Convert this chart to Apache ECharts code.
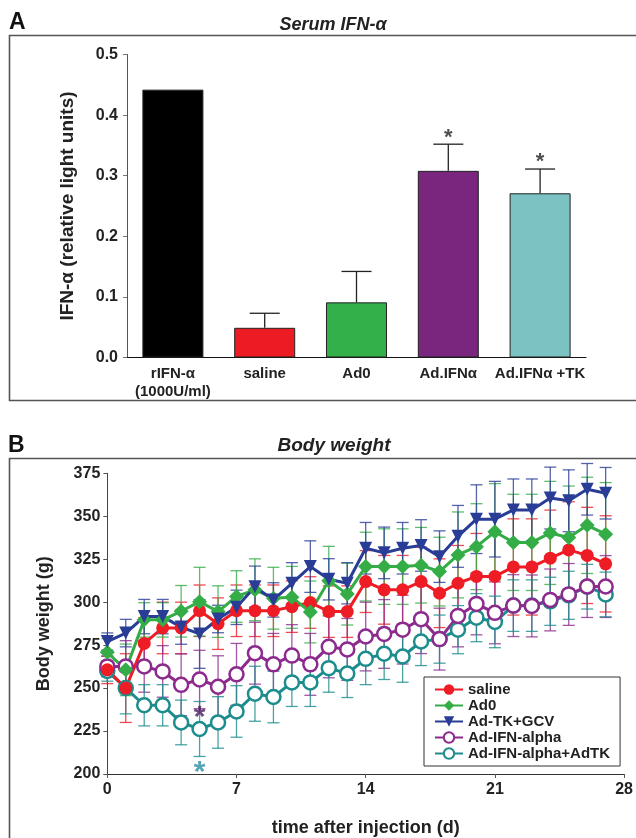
<!DOCTYPE html>
<html>
<head>
<meta charset="utf-8">
<script src="https://cdn.jsdelivr.net/npm/echarts@6/dist/echarts.min.js"></script>
<style>
  html, body { margin: 0; padding: 0; background: #fff; }
  #main { width: 636px; height: 838px; }
</style>
</head>
<body>
<div id="main"></div>
<script>
// panel A - serum IFN-alpha
var groupsA = ['rIFN-α\n(1000U/ml)', 'saline', 'Ad0', 'Ad.IFNα', 'Ad.IFNα +TK'];
var valuesA = [0.442, 0.049, 0.091, 0.308, 0.271];
var errorsA = [0, 0.024, 0.051, 0.044, 0.040];
var colorsA = ['#000000', '#ec1c24', '#33b04a', '#7b267e', '#7cc2c2'];
var starsA = [[3, 0.369], [4, 0.330]];
var ticksA = [0.0, 0.1, 0.2, 0.3, 0.4, 0.5];

// panel B - body weight
var days = [0, 1, 2, 3, 4, 5, 6, 7, 8, 9, 10, 11, 12, 13, 14, 15, 16, 17, 18, 19, 20, 21, 22, 23, 24, 25, 26, 27];
var seriesNames = ['saline', 'Ad0', 'Ad-TK+GCV', 'Ad-IFN-alpha', 'Ad-IFN-alpha+AdTK'];
var saline = [260.6, 250, 276, 285, 285, 295, 287.5, 295, 295, 295, 297.4, 299.8, 294.5, 294.5, 312, 307.2, 307.2, 312, 305.2, 311, 315, 315, 320.5, 320.5, 325.6, 330.4, 327.2, 322.3];
var ad0 = [270.8, 260.6, 289.7, 289.7, 294.7, 300.3, 294.5, 303.3, 307.2, 302.3, 302.8, 294.3, 312.5, 304.7, 320.7, 320.7, 320.7, 321.5, 317.8, 327.5, 332.3, 341, 334.8, 334.8, 340.3, 337.6, 344.7, 339.6];
var adTk = [277.1, 282, 291.6, 291.6, 285.5, 281.5, 290.2, 297, 309, 301.3, 311, 320.7, 313.3, 311, 331.4, 328.7, 331.4, 333, 326.5, 338.3, 348.3, 348.3, 353.7, 353.7, 360.6, 359, 365.7, 363.4];
var adIfn = [262.6, 262.6, 262.6, 259.7, 251.9, 255, 250.8, 258, 270.3, 263.8, 268.9, 263.8, 274, 272.5, 280, 281.5, 284, 290.1, 278.5, 292, 299, 293.8, 298, 297.8, 301.3, 304.5, 309.1, 309.1];
var adIfnTk = [260, 250, 240, 240, 230, 226.2, 230, 236.4, 246.7, 244.8, 253.3, 253.3, 261.6, 258.5, 267, 270, 268.4, 277.1, 278.5, 284, 291, 288.5, 298, 298, 300.5, 304, 309, 304.5];
var salineErr = [8, 20, 15, 15, 15, 15, 15, 15, 15, 15, 15, 15, 15, 15, 18, 20, 20, 20, 20, 22, 25, 25, 28, 28, 28, 28, 28, 28];
var ad0Err = [8, 15, 10, 10, 15, 20, 15, 15, 18, 18, 18, 18, 20, 18, 20, 22, 22, 22, 20, 25, 25, 28, 28, 28, 30, 30, 28, 30];
var adTkErr = [5, 8, 10, 10, 10, 20, 8, 10, 12, 10, 12, 15, 12, 12, 15, 15, 15, 15, 15, 18, 20, 22, 18, 18, 18, 18, 15, 15];
var adIfnErr = [6, 15, 15, 15, 18, 17, 18, 18, 18, 18, 18, 18, 18, 18, 20, 20, 20, 20, 18, 18, 18, 18, 18, 18, 18, 18, 18, 18];
var adIfnTkErr = [6, 15, 12, 12, 13, 16, 15, 15, 16, 15, 14, 14, 14, 14, 15, 15, 15, 14, 14, 14, 14, 15, 15, 15, 14, 14, 13, 13];
var starsB = [[5, 236.5, '#4b1d5e'], [5, 204.5, '#2a8fa5']];
var ticksBx = [0, 7, 14, 21, 28];
var ticksBy = [200, 225, 250, 275, 300, 325, 350, 375];

var FONT = '"Liberation Sans", Arial, sans-serif';
var chart = echarts.init(document.getElementById('main'), null, { renderer: 'canvas' });

function errBarsB(name, vals, errs, color) {
    var data = days.map(function (d, i) { return [d, vals[i] - errs[i], vals[i] + errs[i]]; });
    return {
        type: 'custom', name: name, xAxisIndex: 1, yAxisIndex: 1, z: 2, silent: true,
        encode: { x: 0, y: [1, 2] },
        data: data,
        renderItem: function (params, api) {
            var x = api.value(0);
            var lo = api.coord([x, api.value(1)]);
            var hi = api.coord([x, api.value(2)]);
            var w = 6;
            var st = { stroke: color, lineWidth: 1.3, opacity: 0.8 };
            return {
                type: 'group', children: [
                    { type: 'line', shape: { x1: hi[0], y1: hi[1], x2: lo[0], y2: lo[1] }, style: st },
                    { type: 'line', shape: { x1: hi[0] - w, y1: hi[1], x2: hi[0] + w, y2: hi[1] }, style: st },
                    { type: 'line', shape: { x1: lo[0] - w, y1: lo[1], x2: lo[0] + w, y2: lo[1] }, style: st }
                ]
            };
        }
    };
}

function lineB(name, vals, color, symbol, size, open, rotate) {
    return {
        type: 'line', name: name, xAxisIndex: 1, yAxisIndex: 1, z: 3,
        data: days.map(function (d, i) { return [d, vals[i]]; }),
        symbol: symbol, symbolSize: size, symbolRotate: rotate || 0,
        showAllSymbol: true,
        lineStyle: { color: color, width: 3 },
        itemStyle: open ? { color: '#ffffff', borderColor: color, borderWidth: 2.5 } : { color: color, borderWidth: 0 },
        emphasis: { disabled: true }
    };
}

var errA = {
    type: 'custom', xAxisIndex: 0, yAxisIndex: 0, z: 1, silent: true,
    data: valuesA.map(function (v, i) { return [i, v, v + errorsA[i]]; }),
    renderItem: function (params, api) {
        if (api.value(2) <= api.value(1)) return;
        var lo = api.coord([api.value(0), api.value(1)]);
        var hi = api.coord([api.value(0), api.value(2)]);
        var w = 15;
        var st = { stroke: '#222', lineWidth: 1.3 };
        return {
            type: 'group', children: [
                { type: 'line', shape: { x1: hi[0], y1: hi[1], x2: lo[0], y2: lo[1] }, style: st },
                { type: 'line', shape: { x1: hi[0] - w, y1: hi[1], x2: hi[0] + w, y2: hi[1] }, style: st }
            ]
        };
    }
};

var option = {
    animation: false,
    backgroundColor: '#ffffff',
    textStyle: { fontFamily: FONT },
    grid: [
        { left: 127, top: 54.5, width: 459, height: 303 },
        { left: 107.3, top: 473.3, width: 517.7, height: 301 }
    ],
    xAxis: [
        {
            type: 'category', gridIndex: 0, data: groupsA,
            axisLine: { lineStyle: { color: '#111', width: 1.2 } },
            axisTick: { show: false },
            axisLabel: { interval: 0, color: '#222', fontWeight: 'bold', fontSize: 15, margin: 7, lineHeight: 18, fontFamily: FONT }
        },
        {
            type: 'value', gridIndex: 1, min: 0, max: 28, interval: 7,
            splitLine: { show: false },
            axisLine: { onZero: false, lineStyle: { color: '#333', width: 1.2 } },
            axisTick: { length: 4, lineStyle: { color: '#555' } },
            axisLabel: { color: '#222', fontWeight: 'bold', fontSize: 16, margin: 8, fontFamily: FONT },
            name: 'time after injection (d)', nameLocation: 'middle', nameGap: 45,
            nameTextStyle: { color: '#222', fontWeight: 'bold', fontSize: 18, fontFamily: FONT }
        }
    ],
    yAxis: [
        {
            type: 'value', gridIndex: 0, min: 0, max: 0.5, interval: 0.1,
            splitLine: { show: false },
            axisLine: { show: true, lineStyle: { color: '#555', width: 1 } },
            axisTick: { show: true, length: 4, lineStyle: { color: '#777' } },
            axisLabel: { color: '#222', fontWeight: 'bold', fontSize: 16, margin: 9, fontFamily: FONT,
                formatter: function (v) { return v.toFixed(1); } },
            name: 'IFN-α (relative light units)', nameLocation: 'middle', nameGap: 50,
            nameTextStyle: { color: '#222', fontWeight: 'bold', fontSize: 19, fontFamily: FONT }
        },
        {
            type: 'value', gridIndex: 1, min: 200, max: 375, interval: 25,
            splitLine: { show: false },
            axisLine: { show: true, lineStyle: { color: '#444', width: 1 } },
            axisTick: { show: true, length: 4, lineStyle: { color: '#555' } },
            axisLabel: { color: '#222', fontWeight: 'bold', fontSize: 16, margin: 7, fontFamily: FONT },
            name: 'Body weight (g)', nameLocation: 'middle', nameGap: 54,
            nameTextStyle: { color: '#222', fontWeight: 'bold', fontSize: 18, fontFamily: FONT }
        }
    ],
    legend: {
        data: seriesNames,
        orient: 'vertical', left: 424, top: 677,
        padding: [5, 10, 5, 10], itemGap: 1,
        itemWidth: 28, itemHeight: 13,
        backgroundColor: '#ffffff', borderColor: '#333', borderWidth: 1, borderRadius: 0,
        selectedMode: false,
        textStyle: { color: '#222', fontWeight: 'bold', fontSize: 15, fontFamily: FONT }
    },
    graphic: [
        { type: 'polyline', shape: { points: [[636, 35.5], [9.5, 35.5], [9.5, 400.5], [636, 400.5]] }, style: { stroke: '#555', lineWidth: 1.6, fill: null } },
        { type: 'polyline', shape: { points: [[636, 458.5], [9.5, 458.5], [9.5, 838]] }, style: { stroke: '#555', lineWidth: 1.6, fill: null } },
        { type: 'text', x: 9, y: 11, style: { text: 'A', font: 'bold 23px ' + FONT, fill: '#111' } },
        { type: 'text', x: 8, y: 434, style: { text: 'B', font: 'bold 23px ' + FONT, fill: '#111' } },
        { type: 'text', x: 333, y: 25, style: { text: 'Serum IFN-α', font: 'italic bold 18px ' + FONT, fill: '#222', align: 'center', verticalAlign: 'middle' } },
        { type: 'text', x: 334, y: 446, style: { text: 'Body weight', font: 'italic bold 19px ' + FONT, fill: '#222', align: 'center', verticalAlign: 'middle' } }
    ],
    series: [
        {
            type: 'bar', xAxisIndex: 0, yAxisIndex: 0, barWidth: 61, z: 2,
            data: valuesA.map(function (v, i) {
                return { value: v, itemStyle: { color: colorsA[i], borderColor: '#222', borderWidth: 1 } };
            }),
            emphasis: { disabled: true }
        },
        errA,
        {
            type: 'scatter', xAxisIndex: 0, yAxisIndex: 0, symbolSize: 0, silent: true,
            data: starsA,
            label: { show: true, position: 'inside', formatter: '*', color: '#222', fontSize: 22, fontWeight: 'bold', offset: [0, 4] }
        },
        errBarsB('saline-err', saline, salineErr, '#ee1c25'),
        errBarsB('ad0-err', ad0, ad0Err, '#35ad47'),
        errBarsB('tk-err', adTk, adTkErr, '#2a3d96'),
        errBarsB('ifn-err', adIfn, adIfnErr, '#8c2a8e'),
        errBarsB('ifntk-err', adIfnTk, adIfnTkErr, '#1c8c8c'),
        lineB('Ad-IFN-alpha+AdTK', adIfnTk, '#1c8c8c', 'circle', 14, true),
        lineB('Ad-IFN-alpha', adIfn, '#8c2a8e', 'circle', 14, true),
        lineB('saline', saline, '#ee1c25', 'circle', 13, false),
        lineB('Ad0', ad0, '#35ad47', 'diamond', 15, false),
        lineB('Ad-TK+GCV', adTk, '#2a3d96', 'triangle', 13, false, 180),
        {
            type: 'scatter', xAxisIndex: 1, yAxisIndex: 1, symbolSize: 0, silent: true, z: 5,
            data: starsB.map(function (s) { return { value: [s[0], s[1]], label: { color: s[2] } }; }),
            label: { show: true, position: 'inside', formatter: '*', fontSize: 30, fontWeight: 'bold', offset: [0, 6] }
        }
    ]
};

chart.setOption(option);
</script>
</body>
</html>
